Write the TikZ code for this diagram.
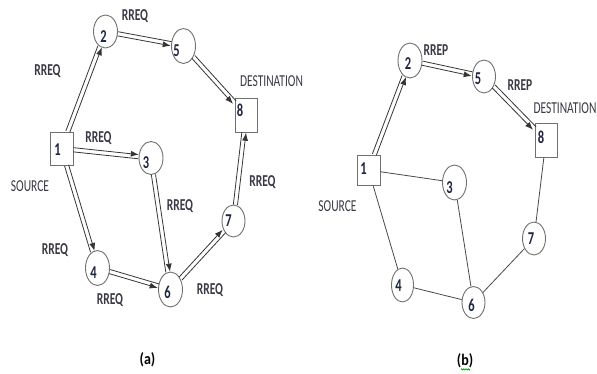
\documentclass[tikz,border=0pt]{standalone}
\usepackage{fontspec}
\setmainfont{Carlito}
\usetikzlibrary{calc,arrows.meta,shapes.geometric,decorations.pathmorphing}

% tall lettering: text stretched vertically
\newcommand\tallbox[1]{\scalebox{1}[1.45]{#1}}

\definecolor{edgegray}{HTML}{353535}
\definecolor{shapegray}{HTML}{707070}
\definecolor{inkblue}{HTML}{1E2640}
\definecolor{labelgray}{HTML}{3A3A46}

% a message hop: two parallel strands, one of them carrying the arrowhead
% #1 tail node, #2 head node, #3 offset of arrowed strand, #4 offset of plain strand
\newcommand\hop[4]{%
  \path (#1) -- coordinate[pos=0] (hs) coordinate[pos=1] (he) (#2);
  \draw[arr] ($(hs)!#3!90:(he)$) -- ($(he)!#3!-90:(hs)$);
  \draw[ln] ($(hs)!#4!90:(he)$) -- ($(he)!#4!-90:(hs)$);
}

\tikzset{
  x=1pt, y=-1pt,
  circnode/.style={ellipse, draw=shapegray, line width=0.9pt, minimum width=24pt, minimum height=33pt, inner sep=0pt},
  boxnode/.style={rectangle, draw=shapegray, line width=0.9pt, minimum width=23pt, minimum height=33pt, inner sep=0pt},
  num/.style={font=\bfseries\fontsize{12.5}{13}\selectfont, text=inkblue, inner sep=0pt},
  msg/.style={font=\bfseries\fontsize{11.5}{12}\selectfont, text=labelgray, inner sep=0pt},
  role/.style={font=\fontsize{11.5}{12}\selectfont, text=labelgray, inner sep=0pt},
  caption/.style={font=\bfseries\fontsize{14}{15}\selectfont, text=black, inner sep=0pt},
  arr/.style={draw=edgegray, line width=0.8pt, -{Latex[length=8pt,width=6pt]}},
  ln/.style={draw=edgegray, line width=0.8pt},
  plain/.style={draw=edgegray!90, line width=0.8pt},
}

\begin{document}
\begin{tikzpicture}
\fill[white] (0,0) rectangle (597,373);
\useasboundingbox (0,0) rectangle (597,373);

% ---------------- panel (a): route request flooding ----------------
\node[boxnode, minimum height=33pt]  (a1) at (61.5,148.5) {};
\node[circnode] (a2) at (105.5,31.5) {};
\node[circnode] (a3) at (151,158) {};
\node[circnode, minimum height=35pt] (a4) at (97.5,268) {};
\node[circnode, minimum height=35pt] (a5) at (183.5,46) {};
\node[circnode, minimum height=35pt] (a6) at (170.5,289.5) {};
\node[circnode, minimum width=23pt, minimum height=32pt] (a7) at (233.5,221) {};
\node[boxnode, minimum width=22pt, minimum height=34pt] (a8) at (246,115) {};

\node[num] (a1n) at ($(a1)+(-4,1.5)$) {\tallbox{1}};
\node[num] (a2n) at ($(a2)+(-2,5.5)$) {\tallbox{2}};
\node[num] (a3n) at ($(a3)+(-5,5)$) {\tallbox{3}};
\node[num] (a4n) at ($(a4)+(-4,5)$) {\tallbox{4}};
\node[num] (a5n) at ($(a5)+(-7,5)$) {\tallbox{5}};
\node[num] (a6n) at ($(a6)+(-3,3)$) {\tallbox{6}};
\node[num] (a7n) at ($(a7)+(-5,0)$) {\tallbox{7}};
\node[num] (a8n) at ($(a8)+(-6,-5)$) {\tallbox{8}};

\hop{a1}{a2}{-2.1pt}{2.1pt}
\hop{a2}{a5}{-2.1pt}{2.1pt}
\hop{a5}{a8}{-2.1pt}{2.1pt}
\hop{a1}{a3}{2.1pt}{-2.1pt}
\hop{a1}{a4}{2.1pt}{-2.1pt}
\hop{a3}{a6}{2.1pt}{-2.1pt}
\hop{a4}{a6}{-2.1pt}{2.1pt}
\hop{a6}{a7}{2.1pt}{-2.1pt}
\hop{a7}{a8}{-2.1pt}{2.1pt}

\node[msg] (qa1) at (135,16) {\tallbox{RREQ}};
\node[msg] (qa2) at (47.5,71.5) {\tallbox{RREQ}};
\node[msg] (qa3) at (98.5,138) {\tallbox{RREQ}};
\node[msg] (qa4) at (262.5,182.5) {\tallbox{RREQ}};
\node[msg] (qa5) at (180,206.5) {\tallbox{RREQ}};
\node[msg] (qa6) at (55,250) {\tallbox{RREQ}};
\node[msg] (qa7) at (110,300) {\tallbox{RREQ}};
\node[msg] (qa8) at (210,290) {\tallbox{RREQ}};
\node[role] (da) at (271.5,81.5) {\tallbox{DESTINATION}};
\node[role] (sa) at (30,186) {\tallbox{SOURCE}};
\node[caption] (capa) at (147.5,360) {\scalebox{1}[1.15]{(a)}};

% ---------------- panel (b): route reply back along the path ----------------
\node[boxnode, minimum height=30pt] (b1) at (368.5,170) {};
\node[circnode, minimum height=35pt] (b2) at (410,60.5) {};
\node[circnode, minimum height=35pt] (b3) at (454.5,182.5) {};
\node[circnode, minimum width=22pt, minimum height=34pt] (b4) at (402.5,285) {};
\node[circnode, minimum width=23pt, minimum height=33pt] (b5) at (484,76.5) {};
\node[circnode, minimum width=23pt, minimum height=32pt] (b6) at (473.5,302.5) {};
\node[circnode, minimum width=23pt, minimum height=33pt] (b7) at (534,238.5) {};
\node[boxnode, minimum width=22pt, minimum height=34pt] (b8) at (546,140) {};

\node[num] (b1n) at ($(b1)+(-5,-1)$) {\tallbox{1}};
\node[num] (b2n) at ($(b2)+(-2,3)$) {\tallbox{2}};
\node[num] (b3n) at ($(b3)+(-5,5)$) {\tallbox{3}};
\node[num] (b4n) at ($(b4)+(-4,1)$) {\tallbox{4}};
\node[num] (b5n) at ($(b5)+(-6,2)$) {\tallbox{5}};
\node[num] (b6n) at ($(b6)+(-2,3)$) {\tallbox{6}};
\node[num] (b7n) at ($(b7)+(-3,0)$) {\tallbox{7}};
\node[num] (b8n) at ($(b8)+(-5,-3)$) {\tallbox{8}};

\hop{b1}{b2}{-2.1pt}{2.1pt}
\hop{b2}{b5}{-2.1pt}{2.1pt}
\hop{b5}{b8}{-2.1pt}{2.1pt}

\draw[plain] (b1) -- (b3);
\draw[plain] (b1) -- (b4);
\draw[plain] (b3) -- (b6);
\draw[plain] (b4) -- (b6);
\draw[plain] (b6) -- (b7);
\draw[plain] (b7) -- (b8);

\node[msg] (pb1) at (436,50) {\tallbox{RREP}};
\node[msg] (pb2) at (520,85) {\tallbox{RREP}};
\node[role] (db) at (565,108.5) {\tallbox{DESTINATION}};
\node[role] (sb) at (337.5,206) {\tallbox{SOURCE}};
\node[caption] (capb) at (465,361) {\scalebox{1}[1.15]{(b)}};
\draw[green!55!black, line width=0.5pt, decorate,
      decoration={zigzag, amplitude=0.7pt, segment length=1.8pt}]
  ($(capb.south)+(-4,1)$) -- ($(capb.south)+(5,1)$);
\end{tikzpicture}
\end{document}
